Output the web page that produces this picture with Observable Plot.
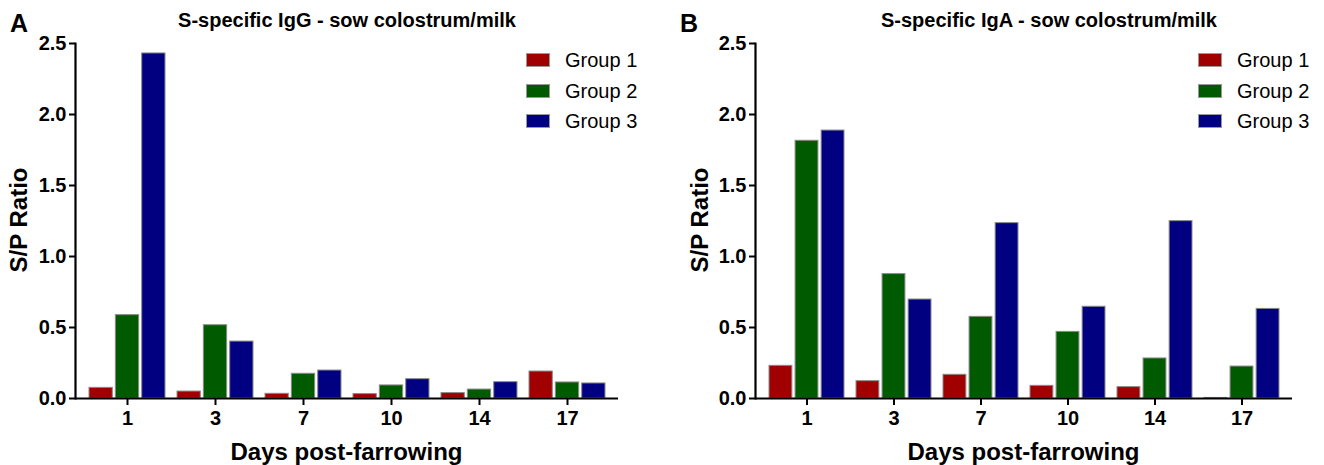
<!DOCTYPE html>
<html>
<head>
<meta charset="utf-8">
<script src="https://cdn.jsdelivr.net/npm/d3@7"></script>
<script src="https://cdn.jsdelivr.net/npm/@observablehq/plot@0.6"></script>
<style>
  html, body { margin: 0; padding: 0; background: #fff; }
  #fig { position: relative; width: 1324px; height: 465px; font-family: "Liberation Sans", Arial, sans-serif; color: #000; overflow: hidden; }
  .panel { position: absolute; top: 0; width: 662px; height: 465px; }
  .panel svg { position: absolute; left: 0; top: 0; }
  .ov { position: absolute; white-space: nowrap; line-height: 1; }
  .letter { font-size: 25px; font-weight: bold; }
  .title { font-size: 20px; font-weight: bold; transform: translate(-50%, -50%); }
  .xlab { font-size: 24px; font-weight: bold; transform: translate(-50%, -50%); }
  .ylab { font-size: 24px; font-weight: bold; transform: translate(-50%, -50%) rotate(-90deg); }
  .leg { display: flex; align-items: center; font-size: 20px; transform: translateY(-50%); }
  .sw { display: inline-block; width: 24px; height: 14px; border: 1px solid #999; box-sizing: border-box; margin-right: 15px; }
</style>
</head>
<body>
<div id="fig"></div>
<script>
// ---- data ----
const days = ["1", "3", "7", "10", "14", "17"];
const groups = ["Group 1", "Group 2", "Group 3"];
const groupColors = ["#a00000", "#005a00", "#000080"];
const yTicks = [0, 0.5, 1.0, 1.5, 2.0, 2.5];

// Panel A: S-specific IgG
const igG_group1 = [0.075, 0.049, 0.033, 0.031, 0.038, 0.190];
const igG_group2 = [0.587, 0.516, 0.174, 0.092, 0.063, 0.113];
const igG_group3 = [2.430, 0.401, 0.197, 0.136, 0.115, 0.106];

// Panel B: S-specific IgA
const igA_group1 = [0.230, 0.122, 0.167, 0.089, 0.080, 0.004];
const igA_group2 = [1.815, 0.876, 0.575, 0.469, 0.282, 0.225];
const igA_group3 = [1.887, 0.697, 1.235, 0.646, 1.249, 0.631];

const panels = [
  {letter: "A", title: "S-specific IgG - sow colostrum/milk", series: [igG_group1, igG_group2, igG_group3],
   left: 0, marginLeft: 75, marginRight: 44, titleX: 347, letterX: 10, ylabX: 19, legX: 526},
  {letter: "B", title: "S-specific IgA - sow colostrum/milk", series: [igA_group1, igA_group2, igA_group3],
   left: 662, marginLeft: 93, marginRight: 32, titleX: 387, letterX: 18, ylabX: 38, legX: 536}
];

const W = 662, H = 465, MT = 43, MB = 67;
const padIn = 0.14, padOut = 0.14, gap = 3;

const fig = document.getElementById("fig");

for (const p of panels) {
  const rows = [];
  p.series.forEach((vals, gi) => vals.forEach((v, di) => rows.push({day: days[di], group: groups[gi], gi, value: v})));

  // compute bar width inside each day band, same band as Plot's x scale
  const band = d3.scaleBand(days, [p.marginLeft, W - p.marginRight]).paddingInner(padIn).paddingOuter(padOut);
  const bw = band.bandwidth();
  const barW = (bw - 2 * gap) / 3;

  const barMarks = groups.map((g, gi) => Plot.barY(rows.filter(r => r.gi === gi), {
    x: "day", y: "value", fill: "group",
    stroke: "#8a8a8a", strokeWidth: 1,
    insetLeft: gi * (barW + gap), insetRight: (2 - gi) * (barW + gap)
  }));

  const chart = Plot.plot({
    width: W, height: H,
    marginLeft: p.marginLeft, marginRight: p.marginRight, marginTop: MT, marginBottom: MB,
    style: {fontFamily: "'Liberation Sans', Arial, sans-serif", color: "#000", background: "transparent", overflow: "visible"},
    x: {type: "band", domain: days, paddingInner: padIn, paddingOuter: padOut},
    y: {domain: [0, 2.5], nice: false},
    color: {domain: groups, range: groupColors},
    marks: [
      ...barMarks,
      Plot.axisX({tickSize: 7, tickPadding: 5, fontSize: 20, fontWeight: "bold", label: null, strokeWidth: 2}),
      Plot.axisY({ticks: yTicks, tickFormat: d3.format(".1f"), tickSize: 6, tickPadding: 3, fontSize: 20, fontWeight: "bold", label: null, strokeWidth: 2}),
      Plot.ruleY([0], {stroke: "#000", strokeWidth: 2.2}),
      Plot.frame({anchor: "left", stroke: "#000", strokeWidth: 2.2})
    ]
  });

  const pan = document.createElement("div");
  pan.className = "panel";
  pan.style.left = p.left + "px";
  pan.appendChild(chart);

  const add = (cls, text, x, y) => {
    const d = document.createElement("div");
    d.className = "ov " + cls;
    d.textContent = text;
    d.style.left = x + "px";
    d.style.top = y + "px";
    pan.appendChild(d);
    return d;
  };
  add("letter", p.letter, p.letterX, 11);
  add("title", p.title, p.titleX, 20);
  add("ylab", "S/P Ratio", p.ylabX, 220);
  add("xlab", "Days post-farrowing", (p.marginLeft + W - p.marginRight) / 2, 452);

  groups.forEach((g, gi) => {
    const d = document.createElement("div");
    d.className = "ov leg";
    d.style.left = p.legX + "px";
    d.style.top = (60 + gi * 30.5) + "px";
    const sw = document.createElement("span");
    sw.className = "sw";
    sw.style.background = groupColors[gi];
    d.appendChild(sw);
    d.appendChild(document.createTextNode(g));
    pan.appendChild(d);
  });

  fig.appendChild(pan);
}
</script>
</body>
</html>
